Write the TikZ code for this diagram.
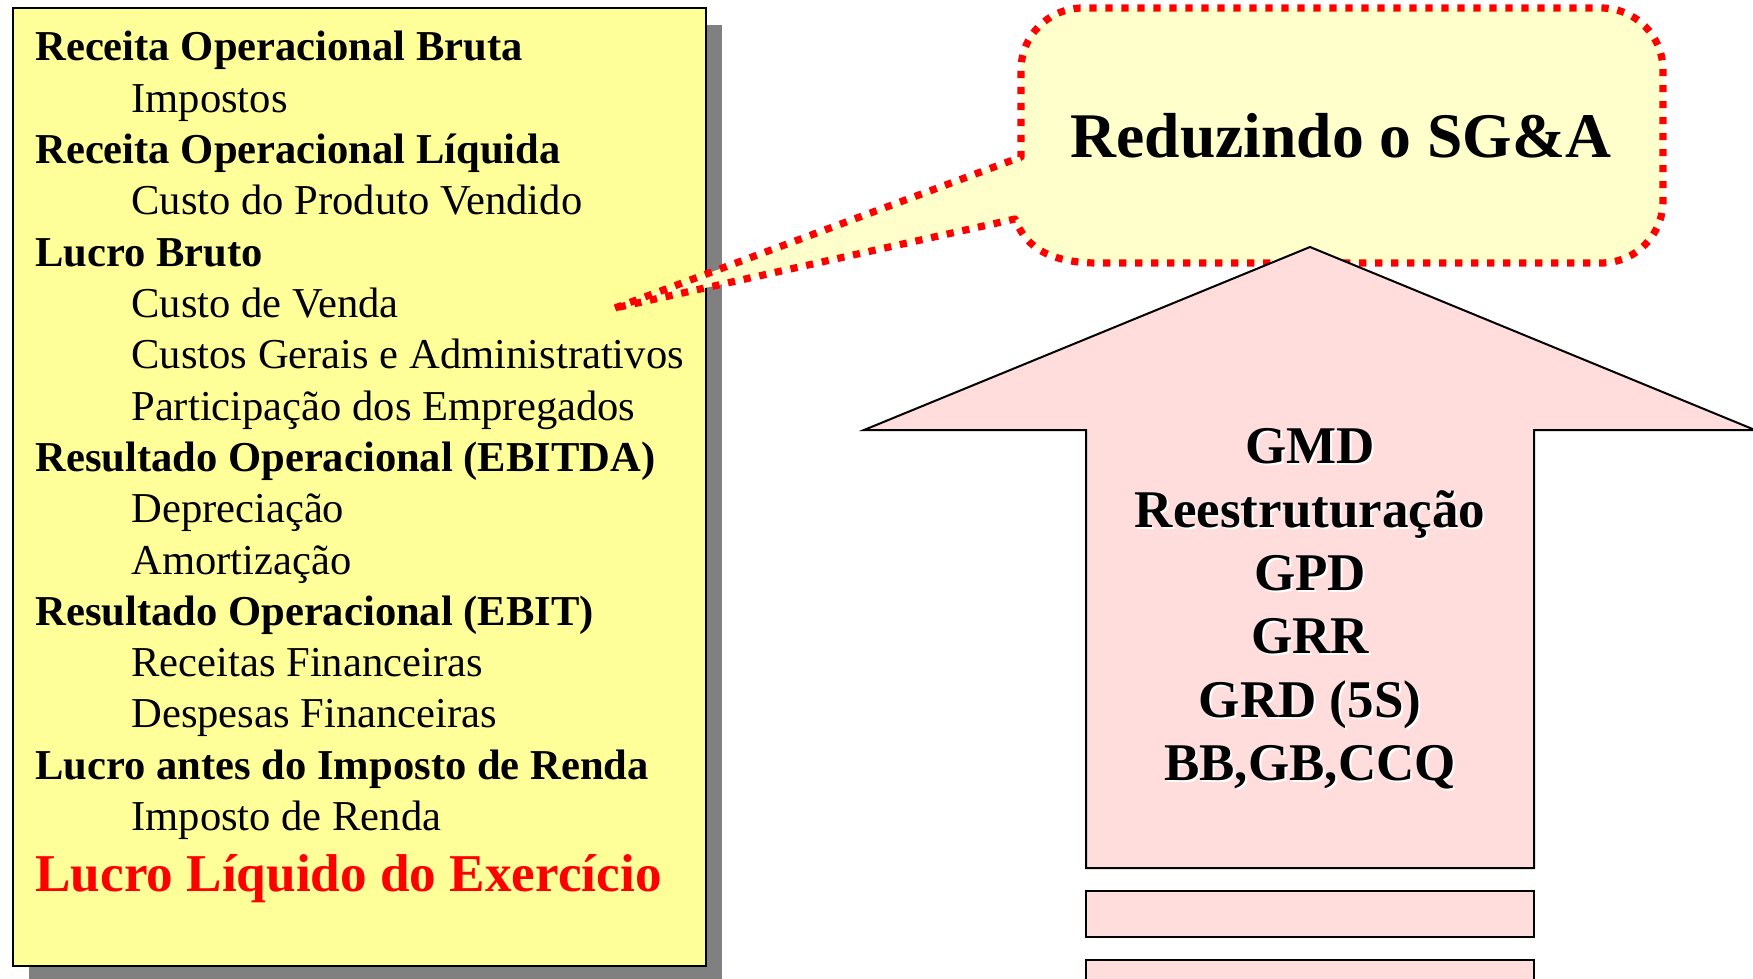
\documentclass[tikz,border=0pt]{standalone}
\usepackage{fontspec}
\setmainfont{Liberation Serif}
\definecolor{boxyellow}{HTML}{FFFF99}
\definecolor{calloutfill}{HTML}{FFFFCC}
\definecolor{arrowpink}{HTML}{FFDDDD}
\definecolor{shadowgray}{HTML}{808080}
\begin{document}
\begin{tikzpicture}[x=0.5pt,y=-0.5pt,
  plain/.style={anchor=base west, inner sep=0pt, font=\fontsize{21.3}{25}\selectfont},
  headline/.style={anchor=base west, inner sep=0pt, font=\fontsize{21.3}{25}\selectfont\bfseries},
  redline/.style={anchor=base west, inner sep=0pt, text=red, font=\fontsize{26.6}{30}\selectfont\bfseries},
  arrowtxt/.style={anchor=base, inner sep=0pt, font=\fontsize{26.5}{30}\selectfont\bfseries},
  arrowshadow/.style={arrowtxt, text=white},
  blockfill/.style={draw=black, line width=1pt, fill=arrowpink},
  calloutline/.style={draw=red, line width=3.6pt, dash pattern=on 3.6pt off 4.4pt, fill=calloutfill, line join=round}]
\useasboundingbox (0,0) rectangle (1753,979);
% left box with shadow
\fill[shadowgray] (29,25) rectangle (722,990);
\draw[fill=boxyellow, line width=1pt] (13,8) rectangle (706,966);
\node[headline] (l1) at (35,61) {Receita Operacional Bruta};
\node[plain] (l2) at (131,112.3) {Impostos};
\node[headline] (l3) at (35,163.6) {Receita Operacional Líquida};
\node[plain] (l4) at (131,214.9) {Custo do Produto Vendido};
\node[headline] (l5) at (35,266.2) {Lucro Bruto};
\node[plain] (l6) at (131,317.5) {Custo de Venda};
\node[plain] (l7) at (131,368.8) {Custos Gerais e Administrativos};
\node[plain] (l8) at (131,420.1) {Participação dos Empregados};
\node[headline] (l9) at (35,471.4) {Resultado Operacional (EBITDA)};
\node[plain] (l10) at (131,522.7) {Depreciação};
\node[plain] (l11) at (131,574) {Amortização};
\node[headline] (l12) at (35,625.3) {Resultado Operacional (EBIT)};
\node[plain] (l13) at (131,676.6) {Receitas Financeiras};
\node[plain] (l14) at (131,727.9) {Despesas Financeiras};
\node[headline] (l15) at (35,779.2) {Lucro antes do Imposto de Renda};
\node[plain] (l16) at (131,830.5) {Imposto de Renda};
\node[redline] (l17) at (35,891) {Lucro Líquido do Exercício};
% callout
\path[calloutline] (615,308) -- (1021,157) -- (1021,70) arc[start angle=180, end angle=270, radius=62]
  -- (1601,8) arc[start angle=270, end angle=360, radius=62]
  -- (1663,201) arc[start angle=0, end angle=90, radius=62]
  -- (1095,263) .. controls (1042,262) and (1024,242) .. (1015,219) -- cycle;
\node[anchor=base, inner sep=0pt, font=\fontsize{31.8}{36}\selectfont\bfseries] (title) at (1341,158) {Reduzindo o SG\&A};
% block arrow
\path[blockfill] (1310,247) -- (1755,430) -- (1534,430) -- (1534,868) -- (1086,868) -- (1086,430) -- (864,430) -- cycle;
\path[blockfill] (1086,891) rectangle (1534,937);
\path[blockfill] (1086,960) rectangle (1534,1010);
\node[arrowshadow] (s1) at (1312,465) {GMD};
\node[arrowtxt] (a1) at (1310,463) {GMD};
\node[arrowshadow] (s2) at (1312,529) {Reestruturação};
\node[arrowtxt] (a2) at (1310,527) {Reestruturação};
\node[arrowshadow] (s3) at (1312,592) {GPD};
\node[arrowtxt] (a3) at (1310,590) {GPD};
\node[arrowshadow] (s4) at (1312,655) {GRR};
\node[arrowtxt] (a4) at (1310,653) {GRR};
\node[arrowshadow] (s5) at (1312,719) {GRD (5S)};
\node[arrowtxt] (a5) at (1310,717) {GRD (5S)};
\node[arrowshadow] (s6) at (1312,782) {BB,GB,CCQ};
\node[arrowtxt] (a6) at (1310,780) {BB,GB,CCQ};
\end{tikzpicture}
\end{document}
